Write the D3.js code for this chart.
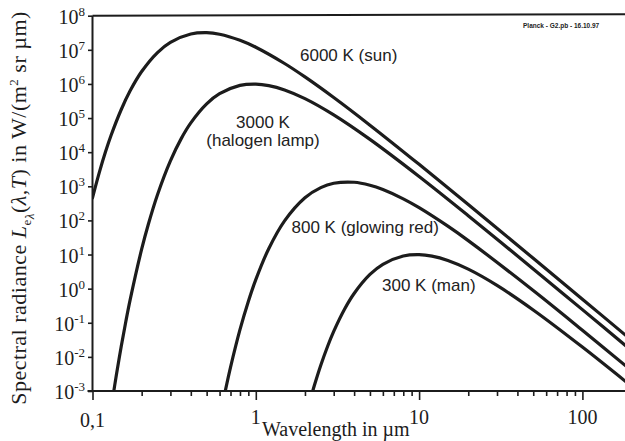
<!DOCTYPE html>
<html><head><meta charset="utf-8">
<script src="https://cdn.jsdelivr.net/npm/d3@7"></script>
<style>body{margin:0;background:#fff}svg{display:block}</style>
</head><body>
<script>
// ---- data ----
const temperatures = ["6000 K (sun)", "3000 K|(halogen lamp)", "800 K (glowing red)", "300 K (man)"];
const wl6000 = [0.1, 0.11, 0.12, 0.13, 0.15, 0.17, 0.2, 0.25, 0.3, 0.4, 0.5, 0.6, 0.8, 1, 1.5, 2, 3, 5, 10, 20, 50, 100, 200];
const L6000  = [460, 2520, 1.0065e4, 3.127e4, 1.782e5, 6.274e5, 2.31e6, 8.33e6, 1.656e7, 2.905e7, 3.176e7, 2.869e7, 1.908e7, 1.191e7, 3.972e6, 1.606e6, 4.004e5, 6.193e4, 4395, 292.2, 7.757, 0.4907, 0.03086];
const wl3000 = [0.13, 0.135, 0.14, 0.15, 0.16, 0.17, 0.2, 0.22, 0.25, 0.3, 0.35, 0.4, 0.5, 0.6, 0.8, 1, 1.2, 1.5, 2, 3, 5, 10, 20, 50, 100, 200];
const L3000  = [3.06e-4, 9.87e-4, 2.93e-3, 0.0204, 0.109, 0.469, 14.37, 78.74, 568.3, 5588, 2.539e4, 7.22e4, 2.602e5, 5.177e5, 9.078e5, 9.925e5, 8.963e5, 6.684e5, 3.722e5, 1.241e5, 2.368e4, 1935, 137.3, 3.786, 0.2424, 0.01534];
const wl800  = [0.62, 0.65, 0.7, 0.8, 0.9, 1, 1.2, 1.5, 2, 2.5, 3, 4, 5, 6, 8, 10, 15, 20, 50, 100, 200];
const L800   = [3.28e-4, 9.87e-4, 4.92e-3, 0.0627, 0.4224, 1.841, 14.83, 97.33, 462.9, 916.7, 1224, 1311.6, 1073.8, 804.4, 429.2, 236.3, 67.69, 25.53, 0.8803, 0.06045, 3.955e-3];
const wl300  = [2.1, 2.2, 2.3, 2.5, 2.75, 3, 3.5, 4, 5, 6, 8, 10, 12, 15, 20, 30, 50, 100, 200];
const L300   = [3.52e-4, 7.87e-4, 1.626e-3, 5.683e-3, 0.0202, 0.05588, 0.2539, 0.722, 2.602, 5.176, 9.077, 9.925, 8.963, 6.685, 3.722, 1.2419, 0.2368, 0.01935, 1.373e-3];
const xTickValues = [0.1, 1, 10, 100];
const xTickLabels = ["0,1", "1", "10", "100"];
const xMinorTicks = [0.2,0.3,0.4,0.5,0.6,0.7,0.8,0.9,2,3,4,5,6,7,8,9,20,30,40,50,60,70,80,90];
const yTickExponents = ["-3","-2","-1","0","1","2","3","4","5","6","7","8"];

const seriesWl = [wl6000, wl3000, wl800, wl300];
const seriesL  = [L6000, L3000, L800, L300];

// ---- layout ----
const W = 625, H = 441;
const mLeft = 92.5, mRight = 625, mTop = 15.7, mBottom = 391;
const labelPos = [
  {x: 300, y: 61, anchor: "start"},
  {x: 263, y: 128, anchor: "middle", dy: 18},
  {x: 291.5, y: 233, anchor: "start"},
  {x: 382, y: 291, anchor: "start"}
];
const ink = "#1c1c1c";
const serif = "'Liberation Serif','Times New Roman',serif";
const sans = "'Liberation Sans',Arial,sans-serif";

const svg = d3.select("body").append("svg").attr("width", W).attr("height", H);
const x = d3.scaleLog().domain([0.1, 100]).range([mLeft, 582.4]);
const y = d3.scaleLog().domain([1e-3, 1e8]).range([mBottom, mTop]);

svg.append("clipPath").attr("id", "plot").append("rect")
  .attr("x", mLeft).attr("y", mTop).attr("width", mRight - mLeft).attr("height", mBottom - mTop);

// curves
const line = d3.line().x(d => x(d[0])).y(d => y(d[1])).curve(d3.curveCatmullRom.alpha(0.5));
const g = svg.append("g").attr("clip-path", "url(#plot)");
seriesWl.forEach((wl, i) => {
  const pts = wl.map((w, j) => [w, seriesL[i][j]]);
  g.append("path").datum(pts).attr("d", line)
    .attr("fill", "none").attr("stroke", ink).attr("stroke-width", 3.2)
    .attr("stroke-linejoin", "round").attr("stroke-linecap", "round");
});

// axes
const xMajor = svg.append("g").attr("transform", `translate(0,${mBottom})`)
  .call(d3.axisBottom(x).tickValues(xTickValues).tickSize(9).tickFormat(""));
const xMinor = svg.append("g").attr("transform", `translate(0,${mBottom})`)
  .call(d3.axisBottom(x).tickValues(xMinorTicks).tickSize(5).tickFormat(""));
const yAx = svg.append("g").attr("transform", `translate(${mLeft},0)`)
  .call(d3.axisLeft(y).tickValues(yTickExponents.map(e => Math.pow(10, +e))).tickSize(4.5).tickFormat(""));
[xMajor, xMinor, yAx].forEach(a => {
  a.select(".domain").remove();
  a.selectAll("line").attr("stroke", ink).attr("stroke-width", 1.6);
});
// frame lines
svg.append("line").attr("x1", mLeft - 5).attr("x2", mRight).attr("y1", mBottom).attr("y2", mBottom)
  .attr("stroke", ink).attr("stroke-width", 2);
svg.append("line").attr("x1", mLeft).attr("x2", mLeft).attr("y1", mTop).attr("y2", mBottom)
  .attr("stroke", ink).attr("stroke-width", 2);
svg.append("line").attr("x1", mLeft).attr("x2", mRight).attr("y1", mTop).attr("y2", mTop - 1.5)
  .attr("stroke", ink).attr("stroke-width", 2);

// y tick labels
yTickExponents.forEach(e => {
  const v = Math.pow(10, +e);
  const t = svg.append("text").attr("x", 85).attr("y", y(v) + 8)
    .attr("text-anchor", "end").attr("font-family", serif).attr("font-size", 20).attr("fill", ink);
  t.append("tspan").text("10");
  t.append("tspan").attr("font-size", 13).attr("dy", -8).text(e);
});

// x tick labels
xTickValues.forEach((v, i) => {
  svg.append("text").attr("x", x(v)).attr("y", i === 0 ? 427 : 424)
    .attr("text-anchor", "middle").attr("font-family", serif).attr("font-size", 20).attr("fill", ink)
    .text(xTickLabels[i]);
});

// axis titles
svg.append("text").attr("x", 262).attr("y", 436).attr("font-family", serif).attr("font-size", 20)
  .attr("fill", ink).text("Wavelength in \u00b5m");

const yt = svg.append("text").attr("transform", "translate(26,208) rotate(-90)")
  .attr("text-anchor", "middle").attr("font-family", serif).attr("font-size", 22)
  .attr("letter-spacing", 0.5).attr("fill", ink);
yt.append("tspan").text("Spectral radiance ");
yt.append("tspan").attr("font-style", "italic").text("L");
yt.append("tspan").attr("font-size", 13).attr("dy", 5).text("e");
yt.append("tspan").attr("font-size", 13).attr("font-style", "italic").attr("dy", 3).text("\u03bb");
yt.append("tspan").attr("dy", -8).text("(");
yt.append("tspan").attr("font-style", "italic").text("\u03bb,T");
yt.append("tspan").text(") in W/(m");
yt.append("tspan").attr("font-size", 13).attr("dy", -8).text("2");
yt.append("tspan").attr("dy", 8).text(" sr \u00b5m)");

// curve labels
temperatures.forEach((txt, i) => {
  const p = labelPos[i];
  const parts = txt.split("|");
  parts.forEach((s, k) => {
    svg.append("text").attr("x", p.x).attr("y", p.y + k * (p.dy || 0))
      .attr("text-anchor", p.anchor).attr("font-family", sans).attr("font-size", 17)
      .attr("fill", "#222").text(s);
  });
});

// stamp
svg.append("text").attr("x", 523).attr("y", 28).attr("font-family", sans).attr("font-size", 6.5)
  .attr("font-weight", "bold").attr("fill", "#222").text("Planck - G2.pb - 16.10.97");
</script>
</body></html>
